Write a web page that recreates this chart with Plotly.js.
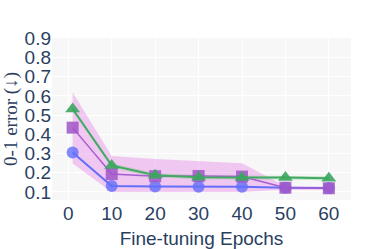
<!DOCTYPE html>
<html><head><meta charset="utf-8">
<script src="https://cdn.plot.ly/plotly-3.0.1.min.js"></script>
<style>body{margin:0;padding:0;background:#fff}#chart{width:382px;height:249px}</style>
</head><body><div id="chart"></div>
<script>
const epochs = [1, 10, 20, 30, 40, 50, 60];
const blueVals = [0.305, 0.131, 0.128, 0.127, 0.127, 0.122, 0.12];
const purpleVals = [0.435, 0.193, 0.182, 0.183, 0.18, 0.122, 0.119];
const greenVals = [0.532, 0.238, 0.187, 0.177, 0.175, 0.175, 0.171];
const purpleUpper = [0.62, 0.287, 0.272, 0.262, 0.25, 0.13, 0.126];
const purpleLower = [0.248, 0.1, 0.1, 0.1, 0.1, 0.112, 0.11];
const greenUpper = [0.545, 0.25, 0.198, 0.188, 0.186, 0.185, 0.182];
const greenLower = [0.52, 0.226, 0.176, 0.166, 0.164, 0.165, 0.16];
const yTicks = [0.1, 0.2, 0.3, 0.4, 0.5, 0.6, 0.7, 0.8, 0.9];
const xTicks = [0, 10, 20, 30, 40, 50, 60];

function band(up, lo, color) {
  return {
    x: epochs.concat(epochs.slice().reverse()),
    y: up.concat(lo.slice().reverse()),
    fill: 'toself', fillcolor: color, line: {width: 0}, mode: 'lines',
    hoverinfo: 'skip', showlegend: false, type: 'scatter'
  };
}
const traces = [
  band(purpleUpper, purpleLower, 'rgba(230,120,230,0.38)'),
  band(greenUpper, greenLower, 'rgba(90,200,110,0.3)'),
  {x: epochs, y: blueVals, mode: 'lines+markers', type: 'scatter',
   line: {color: '#636efa', width: 2},
   marker: {symbol: 'circle', size: 12, color: 'rgba(99,110,250,0.8)'}},
  {x: epochs, y: purpleVals, mode: 'lines+markers', type: 'scatter',
   line: {color: '#a55fd0', width: 1.5},
   marker: {symbol: 'square', size: 12, color: 'rgba(160,85,200,0.85)'}},
  {x: epochs, y: greenVals, mode: 'lines+markers', type: 'scatter',
   line: {color: '#46a865', width: 2},
   marker: {symbol: 'triangle-up', size: 13, color: 'rgba(60,165,95,0.9)'}}
];
const layout = {
  width: 382, height: 249,
  margin: {l: 52, r: 31, t: 38, b: 49},
  paper_bgcolor: '#ffffff', plot_bgcolor: '#f7f7f7',
  showlegend: false,
  font: {family: '"Liberation Sans", Arial, sans-serif', color: '#2a3f5f', size: 19},
  xaxis: {range: [-3.75, 65.1], tickvals: xTicks, ticktext: xTicks.map(String),
          gridcolor: '#ffffff', zeroline: false, showline: false,
          tickfont: {size: 19}, ticks: '',
          title: {text: 'Fine-tuning Epochs', font: {size: 19}, standoff: 9}},
  yaxis: {range: [0.058, 0.902], tickvals: yTicks, ticktext: yTicks.map(v => v.toFixed(1)),
          gridcolor: '#ffffff', zeroline: false, showline: false,
          tickfont: {size: 19}, ticks: '',
          title: {text: '0-1 error (↓)', font: {family: '"Liberation Serif", serif', size: 19}, standoff: 3}}
};
Plotly.newPlot('chart', traces, layout, {displayModeBar: false, staticPlot: true});
</script></body></html>
